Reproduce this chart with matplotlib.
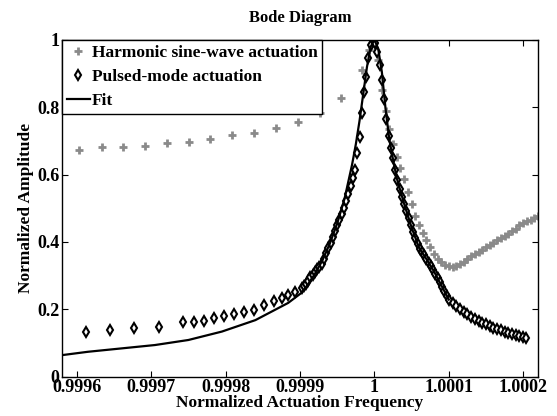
import matplotlib
matplotlib.use("Agg")
import matplotlib.pyplot as plt

plt.rcParams["font.family"] = ["Liberation Serif", "DejaVu Serif"]
plt.rcParams["font.weight"] = "bold"
plt.rcParams["axes.labelweight"] = "bold"
plt.rcParams["axes.titleweight"] = "bold"

# harmonic sine-wave actuation (grey +)
harm_x = [0.999603, 0.999634, 0.999662, 0.999692, 0.999721, 0.999751, 0.999779,
          0.999809, 0.999838, 0.999868, 0.999897, 0.999927, 0.999955, 0.999983,
          0.999993,
          1.000000, 1.000005, 1.000010, 1.000015, 1.000020, 1.000025, 1.000030,
          1.000035, 1.000040, 1.000045, 1.000050, 1.000055, 1.000060, 1.000065,
          1.000070, 1.000075, 1.000080, 1.000085, 1.000090, 1.000095, 1.000100,
          1.000105, 1.000110, 1.000115, 1.000120, 1.000125, 1.000130, 1.000135,
          1.000140, 1.000145, 1.000150, 1.000155, 1.000160, 1.000165, 1.000170,
          1.000175, 1.000180, 1.000185, 1.000190, 1.000195, 1.000200, 1.000205,
          1.000210, 1.000215, 1.000220]
harm_y = [0.673, 0.682, 0.682, 0.685, 0.694, 0.697, 0.706,
          0.718, 0.724, 0.739, 0.757, 0.782, 0.829, 0.911,
          0.970,
          0.990, 0.940, 0.850, 0.790, 0.735, 0.690, 0.653,
          0.620, 0.588, 0.548, 0.512, 0.477, 0.450, 0.428,
          0.407, 0.385, 0.363, 0.350, 0.340, 0.333, 0.328,
          0.326, 0.329, 0.335, 0.342, 0.349, 0.357, 0.364,
          0.371, 0.377, 0.384, 0.391, 0.398, 0.405, 0.411,
          0.417, 0.425, 0.432, 0.440, 0.449, 0.455, 0.461,
          0.466, 0.471, 0.476]

# pulsed-mode actuation (black diamonds)
pulse_x = [0.999612, 0.999645, 0.999677, 0.999710, 0.999743, 0.999757, 0.999771,
           0.999785, 0.999798, 0.999811, 0.999825, 0.999838, 0.999852, 0.999865,
           0.999876, 0.999884, 0.999893, 0.999902,
           0.999905, 0.999908, 0.999911, 0.999914, 0.999917, 0.999920, 0.999923,
           0.999926, 0.999929, 0.999932, 0.999935, 0.999938, 0.999941, 0.999944,
           0.999947, 0.999950, 0.999953, 0.999956, 0.999959, 0.999962, 0.999965,
           0.999968, 0.999971, 0.999974, 0.999977, 0.999980, 0.999983, 0.999986,
           0.999989, 0.999992, 0.999995, 0.999998,
           1.000001, 1.000004, 1.000007, 1.000010, 1.000013, 1.000016, 1.000019,
           1.000022, 1.000025, 1.000028, 1.000031, 1.000034, 1.000037, 1.000040,
           1.000043, 1.000046, 1.000049, 1.000052, 1.000055, 1.000058, 1.000061,
           1.000064, 1.000067, 1.000070, 1.000073, 1.000076, 1.000079, 1.000082,
           1.000085, 1.000088, 1.000091, 1.000094, 1.000097, 1.000100,
           1.000105, 1.000110, 1.000115, 1.000120, 1.000125, 1.000130, 1.000135,
           1.000140, 1.000145, 1.000150, 1.000155, 1.000160, 1.000165, 1.000170,
           1.000175, 1.000180, 1.000185, 1.000190, 1.000195, 1.000200, 1.000204]
pulse_y = [0.134, 0.139, 0.146, 0.149, 0.162, 0.163, 0.166,
           0.173, 0.180, 0.185, 0.191, 0.198, 0.213, 0.226,
           0.233, 0.243, 0.252, 0.263,
           0.268, 0.276, 0.285, 0.295, 0.302, 0.310, 0.319,
           0.327, 0.336, 0.350, 0.366, 0.382, 0.398, 0.415,
           0.432, 0.449, 0.466, 0.483, 0.501, 0.522, 0.543,
           0.565, 0.590, 0.615, 0.665, 0.712, 0.783, 0.845,
           0.890, 0.945, 0.985, 1.000,
           0.990, 0.965, 0.925, 0.880, 0.826, 0.765, 0.715,
           0.680, 0.648, 0.614, 0.583, 0.557, 0.534, 0.513,
           0.492, 0.471, 0.450, 0.429, 0.413, 0.395, 0.380,
           0.370, 0.360, 0.349, 0.339, 0.329, 0.318, 0.306,
           0.294, 0.281, 0.267, 0.254, 0.240, 0.229,
           0.220, 0.211, 0.202, 0.193, 0.185, 0.177, 0.171,
           0.165, 0.160, 0.155, 0.150, 0.146, 0.142, 0.138,
           0.133, 0.130, 0.127, 0.124, 0.121, 0.117, 0.114]

# fit (solid black)
fit_x = [0.999580, 0.999615, 0.999660, 0.999705, 0.999750, 0.999795, 0.999840,
         0.999884, 0.999902, 0.999910, 0.999920, 0.999930, 0.999940, 0.999950,
         0.999960, 0.999970, 0.999975, 0.999980, 0.999985, 0.999990, 0.999995,
         1.000000, 1.000005, 1.000010, 1.000015, 1.000020, 1.000025, 1.000030,
         1.000040, 1.000050, 1.000060, 1.000070, 1.000080, 1.000090, 1.000100]
fit_y = [0.064, 0.074, 0.084, 0.094, 0.109, 0.134, 0.168,
         0.219, 0.249, 0.272, 0.305, 0.345, 0.395, 0.455,
         0.530, 0.630, 0.690, 0.760, 0.840, 0.920, 0.980,
         1.000, 0.975, 0.905, 0.795, 0.705, 0.645, 0.590,
         0.513, 0.443, 0.383, 0.349, 0.313, 0.271, 0.229]

xticks = [0.9996, 0.9997, 0.9998, 0.9999, 1.0, 1.0001, 1.0002]
xtick_labels = ["0.9996", "0.9997", "0.9998", "0.9999", "1", "1.0001", "1.0002"]
yticks = [0, 0.2, 0.4, 0.6, 0.8, 1.0]
ytick_labels = ["0", "0.2", "0.4", "0.6", "0.8", "1"]

fig = plt.figure(figsize=(5.57, 4.16), dpi=100)
ax = fig.add_axes([0.1113, 0.0945, 0.8547, 0.8095])

ax.plot(harm_x, harm_y, linestyle="none", marker="+", color="#8a8a8a",
        markersize=5.5, markeredgewidth=2, label="Harmonic sine-wave actuation")
ax.plot(pulse_x, pulse_y, linestyle="none", marker="d", color="black",
        markerfacecolor="white", markersize=5.5, markeredgewidth=1.5,
        label="Pulsed-mode actuation")
ax.plot(fit_x, fit_y, color="black", linewidth=1.6, label="Fit")

ax.set_xlim(0.99958, 1.00022)
ax.set_ylim(0, 1)
ax.set_xticks(xticks)
ax.set_xticklabels(xtick_labels)
ax.set_yticks(yticks)
ax.set_yticklabels(ytick_labels)
ax.tick_params(direction="in", top=True, right=True, labelsize=13, pad=2,
               length=4, width=0.8)
for s in ax.spines.values():
    s.set_linewidth(1.0)

ax.set_title("Bode Diagram", fontsize=12, pad=13)
ax.set_xlabel("Normalized Actuation Frequency", fontsize=12.5, labelpad=-1)
ax.set_ylabel("Normalized Amplitude", fontsize=12.5, labelpad=2)

leg = ax.legend(loc="upper left", borderaxespad=0, fontsize=12.5,
                frameon=True, fancybox=False, handlelength=1.3,
                handletextpad=0.1, borderpad=0.3, labelspacing=0.45)
leg.get_frame().set_edgecolor("black")
leg.get_frame().set_linewidth(1.0)
leg.get_frame().set_alpha(1)

fig.savefig("out.png", dpi=100)
